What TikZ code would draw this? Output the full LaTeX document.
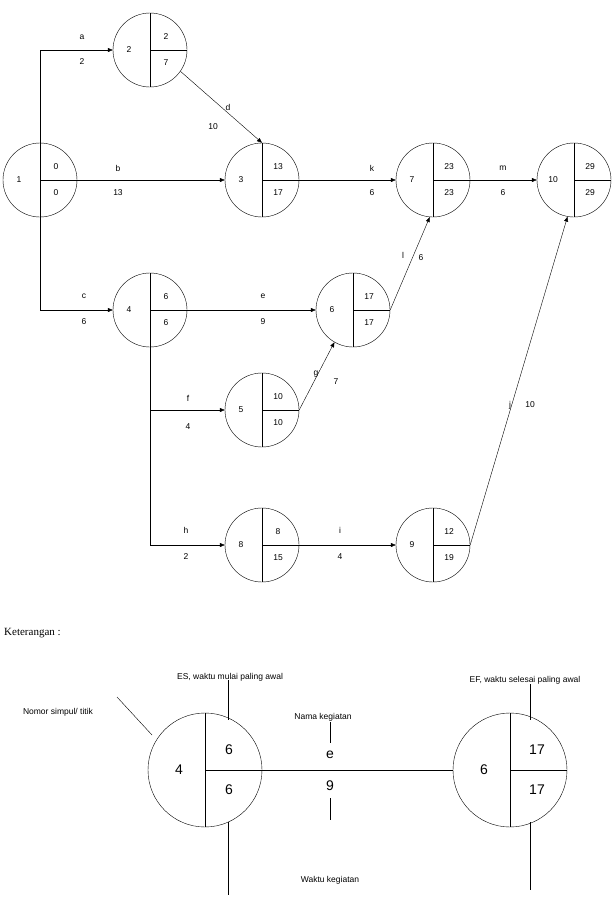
\documentclass[tikz,border=0pt]{standalone}
\usepackage{fontspec}
\setmainfont{Liberation Sans}
\newfontfamily\serifx{Liberation Serif}
\usetikzlibrary{arrows.meta}
\begin{document}
\begin{tikzpicture}[x=1pt,y=-1pt,font=\fontsize{8.5}{10}\selectfont,
 ev/.style={circle,draw,minimum size=74pt,inner sep=0pt},
 ar/.style={draw,-{Triangle[length=5pt,width=4pt]}},
 lb/.style={inner sep=0pt}]
\useasboundingbox (0,0) rectangle (612,911);
\newcommand\ev[6]{% name x y num es ef
 \node[ev] (#1) at (#2,#3) {};
 \draw (#2,#3-37)--(#2,#3+37) (#2,#3)--(#2+37,#3);
 \node[lb] at (#2-21,#3) {#4};
 \node[lb] at (#2+16,#3-13) {#5};
 \node[lb] at (#2+16,#3+13) {#6};}
\ev{n1}{40}{180}{1}{0}{0}
\ev{n2}{150}{50}{2}{2}{7}
\ev{n3}{262}{180}{3}{13}{17}
\ev{n7}{433}{180}{7}{23}{23}
\ev{n10}{574}{180}{10}{29}{29}
\ev{n4}{150}{310}{4}{6}{6}
\ev{n6}{353}{310}{6}{17}{17}
\ev{n5}{262}{410}{5}{10}{10}
\ev{n8}{262}{545}{8}{8}{15}
\ev{n9}{433}{545}{9}{12}{19}
\draw[ar] (n1.north) |- (n2.west);
\draw[ar] (n1.east) -- (n3.west);
\draw[ar] (n1.south) |- (n4.west);
\draw[ar] (n2.-35) -- (n3.north);
\draw[ar] (n3.east) -- (n7.west);
\draw[ar] (n7.east) -- (n10.west);
\draw[ar] (n4.east) -- (n6.west);
\draw[ar] (n4.south) |- (n5.west);
\draw[ar] (n4.south) |- (n8.west);
\draw[ar] (n5.east) -- (n6.-120);
\draw[ar] (n6.east) -- (n7.-95);
\draw[ar] (n8.east) -- (n9.west);
\draw[ar] (n9.east) -- (n10.-100);
\foreach \t/\x/\y in {a/82/37,2/82/62,b/118/168,13/118/193,c/84/296,6/84/322,d/228/107,10/213/127,
 k/372/168,6/372/193,m/503/168,6/503/193,e/263/296,9/263/322,f/188/398,4/188/427,h/186/530,2/186/557,
 g/316/374,7/336/382,l/403/255,6/421/258,i/340/530,4/340/557,j/510/405,10/530/405}
 \node[lb] at (\x,\y) {\t};
\node[lb,anchor=west,font=\serifx\fontsize{11}{13}\selectfont] at (4,633) {Keterangan :};
\node[ev,minimum size=114pt] (L4) at (205,770) {};
\draw (205,713)--(205,827) (205,770)--(262,770);
\node[lb,font=\fontsize{14}{16}\selectfont] at (179,770) {4};
\node[lb,font=\fontsize{14}{16}\selectfont] at (229,750) {6};
\node[lb,font=\fontsize{14}{16}\selectfont] at (229,790) {6};
\node[ev,minimum size=114pt] (L6) at (510,770) {};
\draw (510,713)--(510,827) (510,770)--(567,770);
\node[lb,font=\fontsize{14}{16}\selectfont] at (484,770) {6};
\node[lb,font=\fontsize{14}{16}\selectfont] at (537,750) {17};
\node[lb,font=\fontsize{14}{16}\selectfont] at (537,790) {17};
\draw (L4.east) -- (L6.west);
\node[lb,font=\fontsize{14}{16}\selectfont] at (330,755) {e};
\node[lb,font=\fontsize{14}{16}\selectfont] at (330,786) {9};
\draw (330,722)--(330,743) (330,798)--(330,820);
\draw (228,680)--(228,720) (228,822)--(228,895);
\draw (530,684)--(530,720) (530,822)--(530,890);
\draw (117,697)--(152,735);
\node[lb] at (230,677) {ES, waktu mulai paling awal};
\node[lb] at (525,680) {EF, waktu selesai paling awal};
\node[lb] at (323,717) {Nama kegiatan};
\node[lb] at (58,712) {Nomor simpul/ titik};
\node[lb] at (330,880) {Waktu kegiatan};
\end{tikzpicture}
\end{document}
